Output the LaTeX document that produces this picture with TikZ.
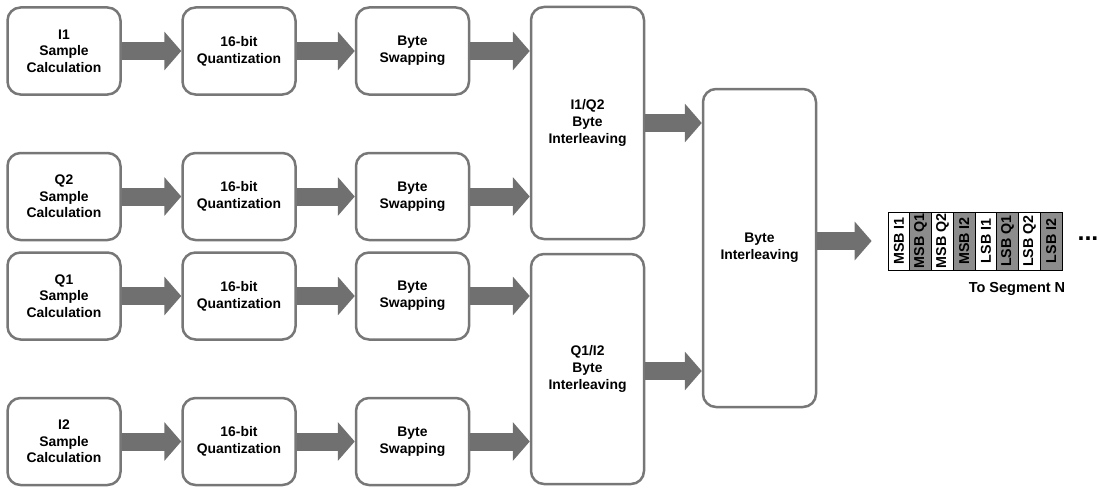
\documentclass[tikz,border=0pt]{standalone}
\usepackage{fontspec}
\setmainfont{Liberation Sans}
\usetikzlibrary{arrows.meta}
\definecolor{boxgray}{HTML}{777777}
\definecolor{arrowgray}{HTML}{707070}
\definecolor{cellgray}{HTML}{8C8C8C}
\tikzset{
  block/.style={draw=boxgray, line width=2.5pt, fill=white, rounded corners=13pt,
    minimum width=113pt, minimum height=87pt, align=center, inner sep=0pt,
    font=\bfseries\fontsize{13.9}{16.7}\selectfont},
  tallblock/.style={block, minimum height=#1},
  fatarrow/.style={draw=arrowgray, line width=18pt, -{Triangle[length=17pt,width=38pt]}},
  cellw/.style={draw=black, line width=0.8pt, fill=white, minimum width=21.75pt, minimum height=58pt,
    inner sep=0pt, font=\bfseries\fontsize{14.3}{15}\selectfont},
  cellg/.style={cellw, fill=cellgray},
}
\begin{document}
\begin{tikzpicture}[x=1pt,y=-1pt]
\useasboundingbox (0,0) rectangle (1099,487);
% row 1
\node[block] (s1) at (64,51) {I1\\Sample\\Calculation};
\node[block] (q1) at (239,51) {16-bit\\Quantization};
\node[block] (w1) at (412.5,51) {Byte\\Swapping};
% row 2
\node[block] (s2) at (64,196.5) {Q2\\Sample\\Calculation};
\node[block] (q2) at (239,196.5) {16-bit\\Quantization};
\node[block] (w2) at (412.5,196.5) {Byte\\Swapping};
% row 3
\node[block] (s3) at (64,296) {Q1\\Sample\\Calculation};
\node[block] (q3) at (239,296) {16-bit\\Quantization};
\node[block] (w3) at (412.5,296) {Byte\\Swapping};
% row 4
\node[block] (s4) at (64,441.5) {I2\\Sample\\Calculation};
\node[block] (q4) at (239,441.5) {16-bit\\Quantization};
\node[block] (w4) at (412.5,441.5) {Byte\\Swapping};
% interleavers
\node[tallblock=232pt] (il1) at (587.5,123) {I1/Q2\\Byte\\Interleaving};
\node[tallblock=230pt] (il2) at (587.5,369) {Q1/I2\\Byte\\Interleaving};
\node[tallblock=318pt] (bi) at (759.5,248) {Byte\\Interleaving};
% segment
\node[cellw] (c1) at (898.9,241) {\rotatebox{90}{MSB I1}};
\node[cellg] (c2) at (920.6,241) {\rotatebox{90}{MSB Q1}};
\node[cellw] (c3) at (942.4,241) {\rotatebox{90}{MSB Q2}};
\node[cellg] (c4) at (964.1,241) {\rotatebox{90}{MSB I2}};
\node[cellw] (c5) at (985.9,241) {\rotatebox{90}{LSB I1}};
\node[cellg] (c6) at (1007.6,241) {\rotatebox{90}{LSB Q1}};
\node[cellw] (c7) at (1029.4,241) {\rotatebox{90}{LSB Q2}};
\node[cellg] (c8) at (1051.1,241) {\rotatebox{90}{LSB I2}};
\node[font=\bfseries\fontsize{14.5}{16}\selectfont] (lab) at (1017,289) {To Segment N};
\node[font=\bfseries\fontsize{25}{26}\selectfont, inner sep=0pt] (dots) at (1088,239) {...};
% arrows
\foreach \r in {1,2,3,4}{
  \draw[fatarrow] (s\r.east) -- (q\r.west);
  \draw[fatarrow] (q\r.east) -- (w\r.west);
}
\draw[fatarrow] (w1.east) -- (w1.east -| il1.west);
\draw[fatarrow] (w2.east) -- (w2.east -| il1.west);
\draw[fatarrow] (w3.east) -- (w3.east -| il2.west);
\draw[fatarrow] (w4.east) -- (w4.east -| il2.west);
\draw[fatarrow] (il1.east) -- (il1.east -| bi.west);
\draw[fatarrow] ([yshift=-2pt]il2.east) -- ([yshift=-2pt]il2.east -| bi.west);
\draw[fatarrow, shorten >=16pt] (bi.east |- c1.west) -- (c1.west);
\end{tikzpicture}
\end{document}
